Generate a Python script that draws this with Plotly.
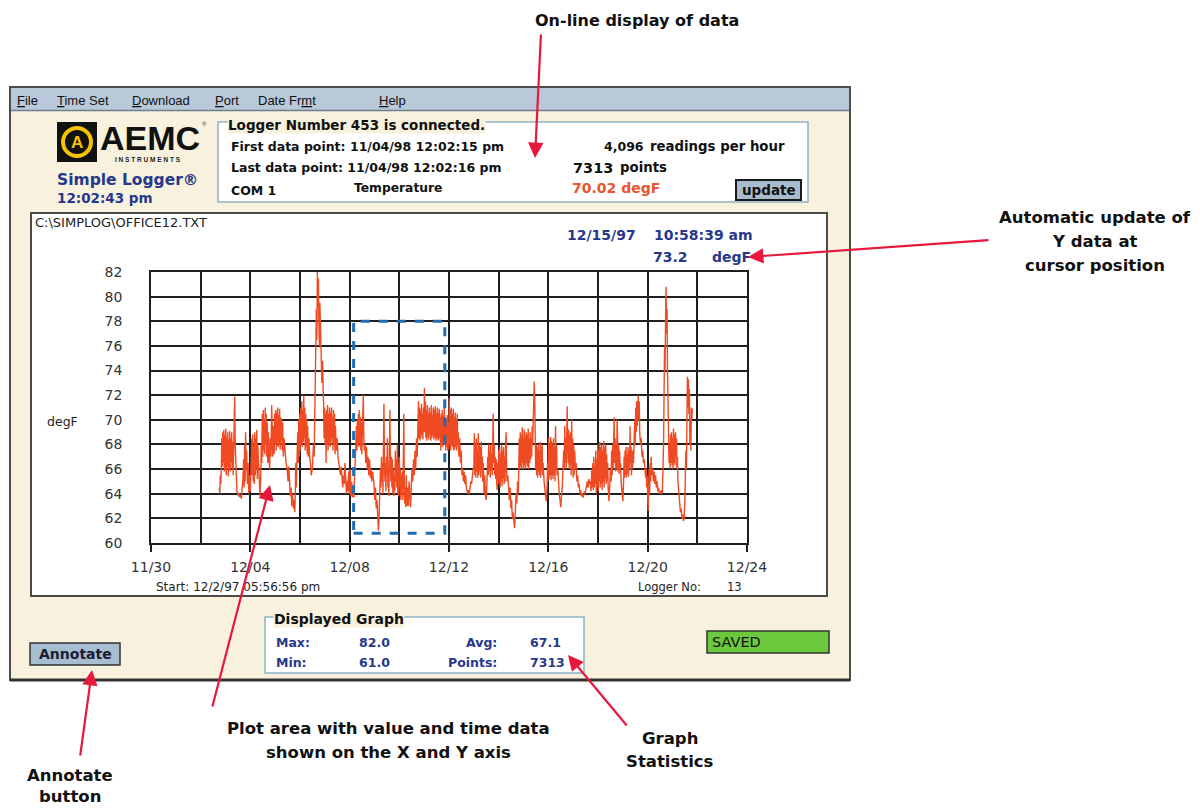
import plotly.graph_objects as go

# ---------------- data (days after 11/30/97, degF) ----------------
seg_a_days = [2.75,2.77,2.79,2.81,2.83,2.85,2.87,2.89,2.91,2.93,2.95,2.97,2.99,3.01,3.03,3.05,3.07,3.09,3.11,3.13,
              3.15,3.17,3.19,3.21,3.23,3.25,3.27,3.29,3.31,3.33,3.35,3.37,3.39,3.41,3.43,3.46,3.49,3.52,3.55,3.58,
              3.61,3.64,3.67,3.70,3.73,3.75,3.77,3.79,3.81,3.83,3.85,3.88,3.91,3.94,3.97,4.00]
seg_a_temps = [64.5,64.0,65.5,64.8,66.0,68.5,66.2,69.0,66.5,69.2,65.8,68.8,66.0,69.3,65.5,68.6,66.2,69.0,65.4,68.4,
               66.0,69.1,65.8,68.5,66.5,69.0,66.0,68.2,65.5,67.5,69.5,71.9,68.0,66.5,65.0,64.2,64.0,63.8,64.0,63.7,
               63.9,63.6,64.5,65.0,66.8,64.5,68.0,65.0,69.0,66.0,67.5,64.8,66.5,64.0,65.5,64.2]

seg_b_days = [4.03,4.06,4.08,4.10,4.12,4.14,4.16,4.18,4.20,4.22,4.24,4.26,4.28,4.30,4.33,4.36,4.39,4.42,4.44,4.46,
              4.48,4.50,4.52,4.54,4.56,4.58,4.60,4.62,4.64,4.66,4.68,4.70,4.72,4.75,4.78,4.80,4.83,4.86,4.88,4.90,
              4.93,4.96,4.98,5.00,5.02,5.04,5.06,5.08,5.10,5.12,5.14,5.16,5.18,5.20,5.22,5.24,5.26,5.28,5.30,5.33,
              5.36,5.40]
seg_b_temps = [66.0,68.5,65.5,68.8,65.0,68.0,64.8,69.0,65.5,68.5,66.0,69.2,65.2,68.0,66.5,64.0,63.8,65.5,68.0,66.5,
               70.5,67.0,70.8,67.5,70.0,67.2,71.0,68.0,70.5,67.0,69.8,66.5,69.0,67.0,66.0,68.5,67.0,71.2,68.0,67.0,
               69.5,67.2,70.5,68.0,70.8,67.5,70.6,68.2,71.0,67.8,70.4,68.0,70.9,67.6,70.2,68.3,70.0,67.5,69.8,67.0,
               68.5,67.0]

seg_c_days = [5.44,5.48,5.52,5.55,5.58,5.61,5.64,5.67,5.70,5.73,5.76,5.79,5.81,5.83,5.85,5.87,5.89,5.91,5.93,5.95,
              5.97,5.99,6.01,6.03,6.05,6.07,6.09,6.11,6.13,6.15,6.17,6.19,6.21,6.23,6.25,6.27,6.29,6.31,6.33,6.36,
              6.39,6.42,6.45,6.48,6.51,6.54,6.57]
seg_c_temps = [66.5,66.0,65.0,66.2,64.5,63.8,64.5,63.0,64.0,62.8,63.5,62.5,64.0,66.5,64.5,67.5,66.0,69.0,66.5,70.0,
               67.0,70.5,67.5,71.0,68.0,71.5,67.8,70.8,68.2,72.0,68.5,71.0,67.5,70.5,67.8,70.0,67.2,69.5,67.0,68.5,
               67.0,66.5,65.5,65.8,66.5,68.0,67.0]

seg_d_days = [6.60,6.62,6.64,6.66,6.68,6.70,6.72,6.74,6.76,6.78,6.80,6.82,6.85,6.88,6.91,6.93,6.95,6.97,6.99,7.01,
              7.03,7.05,7.07,7.09,7.11,7.13,7.15,7.17,7.19,7.21,7.23,7.25,7.27,7.29,7.31,7.33,7.35,7.37,7.39,7.41,
              7.43]
seg_d_temps = [70.0,73.0,76.0,79.0,76.5,82.0,79.0,81.5,78.0,76.0,79.5,76.0,75.5,73.0,74.8,72.5,71.5,68.5,71.0,68.0,
               70.5,66.5,70.8,68.0,71.2,67.5,70.5,68.2,71.0,67.8,70.6,68.0,71.0,68.5,70.2,67.5,70.8,68.0,70.5,67.2,
               69.5]

seg_e_days = [7.46,7.50,7.53,7.56,7.60,7.63,7.66,7.69,7.72,7.75,7.78,7.81,7.84,7.87,7.90,7.93,7.96,7.99,8.02,8.05,
              8.08,8.11,8.14,8.17,8.20]
seg_e_temps = [67.5,68.5,67.0,66.5,66.0,65.5,66.2,65.0,64.5,65.5,64.8,66.5,64.5,64.0,65.0,64.2,65.8,64.0,66.0,63.8,
               65.0,63.7,64.5,63.7,65.5]

seg_f_days = [8.23,8.25,8.27,8.29,8.31,8.33,8.35,8.37,8.39,8.41,8.43,8.45,8.47,8.49,8.51,8.53,8.55,8.57,8.59]
seg_f_temps = [66.5,68.0,69.5,67.5,70.0,68.0,70.5,67.8,70.8,68.2,70.2,67.5,69.8,67.2,69.0,70.5,72.0,68.5,67.5]

seg_g_days = [8.62,8.65,8.68,8.71,8.74,8.77,8.80,8.83,8.86,8.89,8.92,8.95,8.98,9.01,9.04,9.07,9.10,9.13,9.16,9.19,
              9.22]
seg_g_temps = [68.0,66.5,67.8,66.0,67.0,65.5,66.8,65.3,66.0,65.0,65.8,65.2,64.8,63.5,64.5,62.8,63.5,62.2,61.0,62.5,
               64.0]

seg_h_days = [9.24,9.26,9.28,9.30,9.32,9.34,9.36,9.38,9.40,9.42,9.44,9.46,9.48,9.50,9.52,9.54,9.56,9.58,9.60,9.62,
              9.64,9.66,9.68,9.70,9.72,9.74,9.76,9.78,9.80,9.82,9.84,9.86,9.88,9.90,9.92,9.94,9.96,9.98,10.00,10.02,
              10.04,10.06,10.08,10.10,10.12,10.14,10.16,10.18,10.20,10.22,10.24,10.26,10.28,10.30]
seg_h_temps = [66.0,64.5,67.0,65.0,66.5,64.0,68.0,71.3,67.0,65.0,66.5,64.2,67.0,65.5,68.5,64.5,66.0,63.8,67.5,70.8,
               66.5,65.0,67.0,64.5,66.8,64.0,66.0,63.8,65.5,64.2,67.5,65.0,66.8,64.5,68.0,64.0,66.5,63.8,67.0,64.5,
               66.0,63.5,65.5,64.0,65.8,63.5,66.5,70.5,65.0,63.2,64.5,62.9,65.5,63.0]

seg_i_days = [10.33,10.36,10.39,10.42,10.45,10.48,10.51,10.54,10.57,10.60,10.63,10.66,10.69,10.72]
seg_i_temps = [64.5,63.0,65.0,63.0,62.9,64.5,66.0,65.0,66.8,65.5,67.5,66.0,68.5,67.0]

seg_j_days = [10.75,10.77,10.79,10.81,10.83,10.85,10.87,10.89,10.91,10.93,10.95,10.97,10.99,11.01,11.03,11.05,11.07,
              11.09,11.11,11.13,11.15,11.17,11.19,11.21,11.23,11.25,11.27,11.29,11.31,11.33,11.35,11.37,11.39,11.41,
              11.43,11.45,11.47,11.49,11.51,11.53,11.55,11.57,11.59,11.61,11.63,11.65,11.67,11.69,11.71,11.73,11.75,
              11.77,11.79,11.81,11.83,11.85,11.87,11.89,11.91,11.93,11.95,11.97,11.99,12.01,12.03,12.05,12.07,12.09,
              12.11,12.13,12.15,12.17,12.19,12.21,12.23,12.25,12.27,12.29,12.31,12.33,12.35]
seg_j_temps = [69.5,71.5,68.5,71.0,68.3,70.8,68.5,71.3,68.8,70.5,68.4,71.0,69.0,72.6,69.0,71.5,68.5,
               70.8,68.3,71.2,68.6,70.5,68.4,71.0,68.8,70.6,68.3,71.2,68.5,70.4,68.7,71.0,68.4,70.8,
               68.6,71.1,68.3,70.5,68.5,71.0,68.4,70.6,68.3,70.9,68.5,70.2,67.5,70.5,68.0,70.8,67.8,
               70.3,68.2,71.5,68.0,70.2,67.5,70.0,67.8,70.4,67.5,69.8,67.6,71.8,68.0,70.8,67.5,71.0,
               68.0,70.5,67.8,70.9,67.5,70.2,67.6,70.6,67.8,70.0,67.5,70.5,68.0]

seg_k_days = [12.37,12.40,12.43,12.46,12.49,12.52,12.55,12.58,12.61,12.64,12.67,12.70,12.73,12.76,12.79,12.82,12.85,
              12.88,12.91,12.94,12.97]
seg_k_temps = [69.0,67.0,68.5,66.5,67.5,65.5,66.0,65.0,65.8,64.8,65.5,64.5,64.2,64.0,64.3,64.0,64.5,
               65.0,64.8,65.5,66.0]

seg_l_days = [13.00,13.02,13.04,13.06,13.08,13.10,13.12,13.14,13.16,13.18,13.20,13.22,13.24,13.26,13.28,13.30,13.32,
              13.34,13.36,13.38,13.41,13.44,13.47,13.50,13.53]
seg_l_temps = [66.0,68.9,65.5,68.0,65.3,68.5,65.8,67.5,65.3,68.9,65.5,68.0,65.8,67.8,65.3,68.2,66.0,
               67.0,65.0,66.5,64.0,65.5,63.8,63.5,65.0]

seg_m_days = [13.56,13.58,13.60,13.62,13.64,13.66,13.68,13.70,13.72,13.74,13.76,13.78,13.80,13.82,13.84,13.86,13.88,
              13.90,13.92,13.94,13.96,13.98,14.00,14.02,14.04,14.06,14.08,14.10,14.12,14.14,14.16,14.18,14.20,14.22,
              14.24,14.26,14.28,14.30,14.32,14.34]
seg_m_temps = [67.0,65.5,68.0,65.8,67.5,65.3,68.0,66.0,67.2,65.5,68.5,70.5,66.5,68.0,65.5,67.0,65.2,
               66.8,65.0,64.3,66.5,64.8,67.5,65.0,67.8,64.5,67.2,65.0,68.0,64.6,67.5,65.2,67.8,64.8,
               67.0,65.0,68.0,69.0,66.0,65.0]

seg_n_days = [14.37,14.40,14.43,14.46,14.49,14.52,14.55,14.58,14.61,14.64,14.67,14.70,14.73,14.76]
seg_n_temps = [65.5,64.0,63.5,64.5,62.8,63.5,62.0,62.5,61.5,61.2,62.5,64.0,63.2,65.0]

seg_o_days = [14.79,14.81,14.83,14.85,14.87,14.89,14.91,14.93,14.95,14.97,14.99,15.01,15.03,15.05,15.07,15.09,15.11,
              15.13,15.15,15.17,15.19,15.21,15.23,15.25,15.27,15.29,15.31,15.33,15.35,15.37,15.39,15.41,15.43,15.45,
              15.47,15.49,15.51,15.53,15.55,15.57,15.59,15.61,15.63,15.65,15.67,15.69,15.71,15.73,15.75,15.77,15.79]
seg_o_temps = [64.0,66.5,68.5,66.0,69.0,66.2,68.8,66.0,69.4,66.5,68.5,66.0,69.2,66.3,68.7,66.0,69.0,
               66.5,68.8,66.2,69.3,66.0,68.5,66.5,69.0,66.8,68.5,67.0,69.5,68.0,69.5,70.5,73.1,72.0,
               68.0,66.0,68.0,65.5,67.8,65.3,68.0,65.8,67.5,65.5,68.2,65.3,67.8,66.0,68.0,65.5,66.5]

seg_p_days = [15.83,15.86,15.89,15.92,15.95,15.97,15.99,16.01,16.03,16.05,16.07,16.09,16.11,16.13,16.15,16.17,16.19,
              16.21,16.23,16.25,16.27,16.29,16.31,16.33,16.35,16.38,16.41,16.44,16.47,16.50,16.53,16.56,16.59]
seg_p_temps = [65.0,64.0,63.8,63.4,64.5,66.5,65.0,68.5,65.2,68.0,65.5,68.6,65.1,68.3,65.5,68.0,65.2,
               68.5,65.5,67.8,65.0,69.5,66.0,68.0,65.5,66.0,64.5,64.0,63.5,62.9,63.8,64.5,66.0]

seg_q_days = [16.62,16.64,16.66,16.68,16.70,16.72,16.74,16.76,16.78,16.80,16.82,16.84,16.86,16.88,16.90,16.92,16.94,
              16.96,16.98,17.00,17.02,17.04,17.06]
seg_q_temps = [67.5,66.0,69.5,66.5,68.5,66.0,69.0,71.1,68.0,66.5,69.2,66.0,68.8,66.3,69.0,65.5,70.0,
               66.0,68.5,65.3,68.0,65.5,67.5]

seg_r_days = [17.09,17.12,17.15,17.18,17.21,17.24,17.27,17.30,17.33,17.36,17.39,17.42,17.45,17.48,17.51,17.54,17.57,
              17.60,17.63,17.66,17.69,17.72]
seg_r_temps = [66.0,66.5,65.0,65.5,64.5,64.8,64.0,64.3,63.8,64.0,63.7,63.8,64.2,64.0,64.5,64.8,65.0,
               64.5,65.2,64.8,65.0,64.2]

seg_s_days = [17.75,17.77,17.79,17.81,17.83,17.85,17.87,17.89,17.91,17.93,17.95,17.97,17.99,18.01,18.03,18.05,18.07,
              18.09,18.11,18.13,18.15,18.17,18.19,18.21,18.23,18.25,18.27,18.29,18.31,18.33,18.35,18.37,18.39,18.41,
              18.44,18.47,18.50,18.53]
seg_s_temps = [66.0,64.5,66.5,64.3,67.0,64.5,66.2,64.8,67.5,64.0,66.8,64.5,68.0,64.2,67.5,65.0,68.2,
               64.5,67.8,64.8,68.0,64.3,67.5,65.0,68.3,64.5,67.8,65.2,68.0,64.8,67.2,65.0,66.5,64.5,
               63.4,64.5,66.0,65.0]

seg_t_days = [18.55,18.57,18.59,18.61,18.63,18.65,18.67,18.69,18.71,18.73,18.75,18.77,18.79,18.81,18.83,18.85,18.87,
              18.89,18.91,18.93,18.95,18.97,19.00,19.03]
seg_t_temps = [67.5,65.5,68.0,66.0,69.0,70.2,66.5,68.5,65.8,68.2,66.0,70.0,68.5,65.8,68.0,65.6,67.5,
               66.0,66.5,65.0,64.5,64.0,63.4,65.0]

seg_u_days = [19.05,19.07,19.09,19.11,19.13,19.15,19.17,19.19,19.21,19.23,19.25,19.27,19.29,19.31,19.33,19.35,19.37,
              19.39,19.41,19.43,19.45,19.48,19.50,19.52,19.54,19.56,19.58,19.60,19.62,19.64,19.66,19.68]
seg_u_temps = [67.0,65.3,67.5,65.5,67.8,65.3,67.2,65.6,67.8,65.4,67.5,66.0,69.5,66.5,67.8,65.5,67.5,
               66.0,67.5,66.5,68.0,70.0,68.0,71.0,69.0,71.5,69.5,71.0,72.0,70.0,71.5,69.0]

seg_v_days = [19.71,19.74,19.77,19.80,19.83,19.86,19.89,19.92,19.94,19.96,19.98,20.00,20.02,20.04,20.06,20.08,20.10,
              20.12,20.14,20.17,20.20,20.23,20.26,20.29,20.32,20.35,20.38,20.41,20.44,20.47,20.50,20.53,20.56,20.59]
seg_v_temps = [68.0,68.5,67.0,67.5,66.5,66.8,66.0,65.3,66.0,64.5,65.5,63.0,62.6,64.5,66.0,64.0,66.5,
               65.0,67.0,65.5,66.0,65.0,65.8,64.8,65.5,64.5,65.0,64.2,64.5,64.0,64.2,64.0,64.3,64.0]

seg_w_days = [20.62,20.64,20.66,20.68,20.70,20.72,20.74,20.76,20.78,20.80,20.82,20.84,20.86,20.88,20.90,20.92,20.94,
              20.96,20.98,21.00,21.02,21.04,21.06,21.08,21.10,21.12,21.14,21.16,21.18,21.20,21.22,21.24,21.26]
seg_w_temps = [66.0,68.0,72.0,76.0,74.0,78.0,80.8,77.0,79.0,74.0,71.0,68.5,66.5,68.0,66.0,68.8,66.5,
               69.0,66.3,68.5,66.0,69.3,66.5,68.8,66.3,69.0,67.0,68.5,66.0,67.0,65.0,64.5,63.5]

seg_x_days = [21.29,21.32,21.35,21.38,21.41,21.44,21.47,21.50,21.52,21.54,21.56,21.58,21.60,21.62,21.64,21.66,21.68,
              21.70,21.72,21.74,21.76,21.78,21.80]
seg_x_temps = [63.0,62.5,62.8,62.0,62.3,61.8,62.0,63.5,66.0,67.5,66.0,70.0,73.5,71.0,73.3,70.5,72.5,
               68.0,70.0,67.5,71.0,70.0,70.9]

segments_days = [seg_a_days, seg_b_days, seg_c_days, seg_d_days, seg_e_days, seg_f_days, seg_g_days, seg_h_days,
                 seg_i_days, seg_j_days, seg_k_days, seg_l_days, seg_m_days, seg_n_days, seg_o_days, seg_p_days,
                 seg_q_days, seg_r_days, seg_s_days, seg_t_days, seg_u_days, seg_v_days, seg_w_days, seg_x_days]
segments_temps = [seg_a_temps, seg_b_temps, seg_c_temps, seg_d_temps, seg_e_temps, seg_f_temps, seg_g_temps,
                  seg_h_temps, seg_i_temps, seg_j_temps, seg_k_temps, seg_l_temps, seg_m_temps, seg_n_temps,
                  seg_o_temps, seg_p_temps, seg_q_temps, seg_r_temps, seg_s_temps, seg_t_temps, seg_u_temps,
                  seg_v_temps, seg_w_temps, seg_x_temps]

days, temps = [], []
for i, (sd, st) in enumerate(zip(segments_days, segments_temps)):
    assert len(sd) == len(st), f"segment {i}: {len(sd)} days vs {len(st)} temps"
    days += sd
    temps += st

x_tick_vals = [0, 4, 8, 12, 16, 20, 24]
x_tick_labels = ["11/30", "12/04", "12/08", "12/12", "12/16", "12/20", "12/24"]
y_range = [60, 82]
zoom_box_days = [8.16, 11.83]
zoom_box_degf = [60.8, 78.0]

# ---------------- layout helpers (page pixel -> paper); the page body has an 8px margin ----------------
OFF = 8
W, H = 1200 - OFF, 808 - OFF
def X(px): return (px - OFF) / W
def Y(py): return 1 - (py - OFF) / H

SANS = "DejaVu Sans, Verdana, sans-serif"
ARIAL = "Liberation Sans, Arial, sans-serif"
RED = "#e8173c"
NAVY = "#27388c"
CREAM = "#f7f1de"

fig = go.Figure()
fig.add_trace(go.Scatter(x=days, y=temps, mode="lines",
                         line=dict(color="#f04a22", width=1.4),
                         hoverinfo="skip", showlegend=False))

shapes = []
def rect(x0, y0, x1, y1, fill, line=None, lw=0):
    shapes.append(dict(type="rect", xref="paper", yref="paper", x0=X(x0), x1=X(x1), y0=Y(y1), y1=Y(y0),
                       fillcolor=fill, line=dict(color=line or fill, width=lw), layer="below"))

# window
rect(10, 87, 850, 680, CREAM, "#4d4d4d", 2)
rect(11, 88, 849, 110, "#b9c9d9", "#b9c9d9", 0)
shapes.append(dict(type="line", xref="paper", yref="paper", x0=X(11), x1=X(849), y0=Y(110.5), y1=Y(110.5),
                   line=dict(color="#6f7f8f", width=1.5), layer="below"))
shapes.append(dict(type="line", xref="paper", yref="paper", x0=X(10), x1=X(850), y0=Y(680), y1=Y(680),
                   line=dict(color="#333333", width=3), layer="below"))
# logo
rect(57, 122, 97, 162, "#111111")
shapes.append(dict(type="circle", xref="paper", yref="paper", x0=X(63), x1=X(91), y0=Y(156), y1=Y(128),
                   line=dict(color="#f5c400", width=4), layer="below"))
# info box
rect(218, 122, 808, 202, "white", "#8db2c3", 1.5)
rect(736, 180, 801, 200, "#a8bccd", "#1a1a1a", 2)
# plot panel
rect(31, 213, 827, 596, "white", "#4a4a4a", 2)
# bottom widgets
rect(30, 643, 120, 665, "#a7bdd0", "#333333", 1.5)
rect(265, 617, 584, 673, "white", "#8db2c3", 1.5)
rect(707, 631, 829, 653, "#6cc83c", "#333333", 1.5)

# selection box on the chart
shapes.append(dict(type="rect", xref="x", yref="y", x0=zoom_box_days[0], x1=zoom_box_days[1],
                   y0=zoom_box_degf[0], y1=zoom_box_degf[1],
                   line=dict(color="#1f6db5", width=3, dash="dash"), fillcolor="rgba(0,0,0,0)", layer="above"))

ann = []
def txt(px, py, s, size=13, color="black", family=SANS, xanchor="left", bg=None):
    d = dict(x=X(px), y=Y(py), xref="paper", yref="paper", text=s, showarrow=False,
             xanchor=xanchor, yanchor="middle", font=dict(family=family, size=size, color=color))
    if bg:
        d["bgcolor"] = bg
        d["borderpad"] = 0
    ann.append(d)

def arrow(hx, hy, tx, ty):
    ann.append(dict(x=X(hx), y=Y(hy), xref="paper", yref="paper", ax=tx - hx, ay=ty - hy,
                    axref="pixel", ayref="pixel", text="", showarrow=True, arrowhead=2,
                    arrowsize=1.4, arrowwidth=2.2, arrowcolor=RED))

# menu
for px, s in [(15, "<u>F</u>ile"), (55, "<u>T</u>ime Set"), (130, "<u>D</u>ownload"), (213, "<u>P</u>ort"),
              (256, "Date Fr<u>m</u>t"), (377, "<u>H</u>elp")]:
    txt(px, 100, s, 13, "#111", ARIAL)

# logo text
txt(77, 143, "<b>A</b>", 17, "#f5c400", ARIAL, "center")
txt(98, 138, "<b>AEMC</b>", 34, "#111", ARIAL)
txt(200, 124, "®", 6, "#333", ARIAL)
txt(148, 160, "<b>I N S T R U M E N T S</b>", 6.5, "#222", ARIAL, "center")
txt(55, 180, "<b>Simple Logger®</b>", 15.5, NAVY)
txt(55, 198, "<b>12:02:43 pm</b>", 13.5, NAVY)

# info box text
txt(227, 125, "<b>Logger Number 453 is connected.</b>", 13.5, "#111", SANS, bg=CREAM)
txt(229, 146, "<b>First data point: 11/04/98 12:02:15 pm</b>", 12.5, "#111")
txt(229, 168, "<b>Last data point: 11/04/98 12:02:16 pm</b>", 12.5, "#111")
txt(229, 190, "<b>COM 1</b>", 12.5, "#111")
txt(352, 188, "<b>Temperature</b>", 12.3, "#111")
txt(602, 146, "<b>4,096</b>", 12.5, "#111")
txt(648, 146, "<b>readings per hour</b>", 13.3, "#111")
txt(571, 168, "<b>7313</b>", 14.5, "#111")
txt(618, 168, "<b>points</b>", 13.3, "#111")
txt(570, 188, "<b>70.02 degF</b>", 14, "#e8552e")
txt(768.5, 190, "<b>update</b>", 13.5, "#111", SANS, "center")

# plot panel text
txt(33, 222, "C:\\SIMPLOG\\OFFICE12.TXT", 13, "#222")
txt(565, 235, "<b>12/15/97</b>", 14, NAVY)
txt(652, 235, "<b>10:58:39 am</b>", 14, NAVY)
txt(651, 257, "<b>73.2</b>", 14, NAVY)
txt(710, 257, "<b>degF</b>", 14, NAVY)
txt(45, 422, "degF", 12.5, "#222")
txt(154, 587, "Start: 12/2/97 05:56:56 pm", 12, "#222")
txt(636, 587, "Logger No:", 11.5, "#222")
txt(725, 587, "13", 11.5, "#222")

# bottom widgets text
txt(75, 654, "<b>Annotate</b>", 14, "#1b1b33", SANS, "center")
txt(273, 619, "<b>Displayed Graph</b>", 14, "#111", SANS, bg=CREAM)
txt(274, 642, "<b>Max:</b>", 12.5, NAVY)
txt(274, 662, "<b>Min:</b>", 12.5, NAVY)
txt(357, 642, "<b>82.0</b>", 12.5, NAVY)
txt(357, 662, "<b>61.0</b>", 12.5, NAVY)
txt(499, 642, "<b>Avg:</b>", 12.5, NAVY, SANS, "right")
txt(499, 662, "<b>Points:</b>", 12.5, NAVY, SANS, "right")
txt(528, 642, "<b>67.1</b>", 12.5, NAVY)
txt(528, 662, "<b>7313</b>", 12.5, NAVY)
txt(710, 642, "SAVED", 14.5, "#111")

# outer callouts
OUT = 16.5
txt(637, 20, "<b>On-line display of data</b>", 16, "#111", SANS, "center")
txt(1095, 218, "<b>Automatic update of</b>", OUT, "#111", SANS, "center")
txt(1095, 241, "<b>Y data at</b>", OUT, "#111", SANS, "center")
txt(1095, 265, "<b>cursor position</b>", OUT, "#111", SANS, "center")
txt(388, 728, "<b>Plot area with value and time data</b>", OUT, "#111", SANS, "center")
txt(388, 752, "<b>shown on the X and Y axis</b>", OUT, "#111", SANS, "center")
txt(670, 738, "<b>Graph</b>", OUT, "#111", SANS, "center")
txt(670, 761, "<b>Statistics</b>", OUT, "#111", SANS, "center")
txt(70, 775, "<b>Annotate</b>", OUT, "#111", SANS, "center")
txt(70, 796, "<b>button</b>", OUT, "#111", SANS, "center")

arrow(535, 158, 541, 33)
arrow(748, 257, 990, 240)
arrow(270, 485, 212, 708)
arrow(568, 655, 628, 727)
arrow(92, 670, 80, 757)

GRID = "#1e1e1e"
fig.update_layout(
    width=W, height=H, margin=dict(l=0, r=0, t=0, b=0, pad=0, autoexpand=False),
    paper_bgcolor="white", plot_bgcolor="rgba(0,0,0,0)", showlegend=False,
    shapes=shapes, annotations=ann,
    xaxis=dict(domain=[X(151), X(747)], range=[x_tick_vals[0], x_tick_vals[-1]], automargin=False,
               tickmode="array", tickvals=x_tick_vals, ticktext=x_tick_labels,
               ticks="outside", ticklen=7, tickwidth=1.5, tickcolor=GRID, ticklabelstandoff=3,
               showgrid=True, gridcolor=GRID, gridwidth=1.6,
               minor=dict(tickmode="linear", tick0=0, dtick=2, showgrid=True, gridcolor=GRID, gridwidth=1.6),
               showline=True, linecolor=GRID, linewidth=1.6, mirror=True, zeroline=False,
               tickfont=dict(family=SANS, size=14, color="#333"), fixedrange=True),
    yaxis=dict(domain=[Y(543), Y(272)], range=y_range, dtick=2, tick0=60, ticks="", automargin=False,
               ticklabelstandoff=24,
               showgrid=True, gridcolor=GRID, gridwidth=1.6,
               showline=True, linecolor=GRID, linewidth=1.6, mirror=True, zeroline=False,
               tickfont=dict(family=SANS, size=14, color="#333"), fixedrange=True),
)

fig.write_html("out.html", config={"displayModeBar": False})
